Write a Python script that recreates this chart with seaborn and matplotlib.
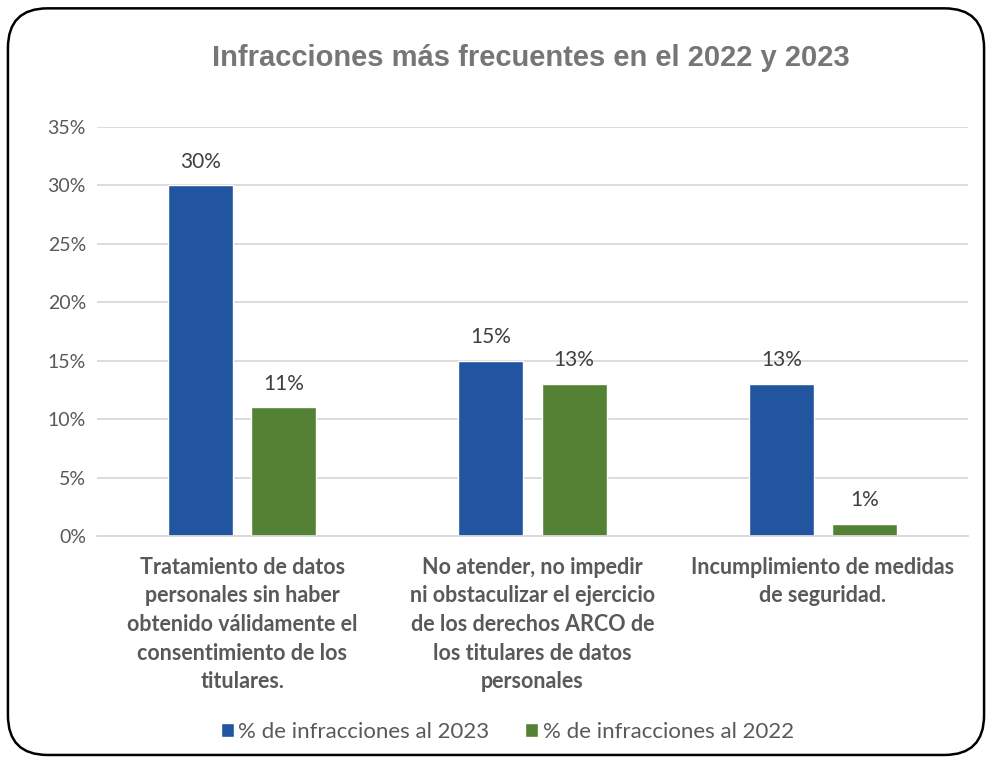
import pandas as pd
import matplotlib.pyplot as plt
import seaborn as sns
from matplotlib.patches import FancyBboxPatch

# --- data ---
categories = [
    "Tratamiento de datos\npersonales sin haber\nobtenido válidamente el\nconsentimiento de los\ntitulares.",
    "No atender, no impedir\nni obstaculizar el ejercicio\nde los derechos ARCO de\nlos titulares de datos\npersonales",
    "Incumplimiento de medidas\nde seguridad.",
]
series_names = ["% de infracciones al 2023", "% de infracciones al 2022"]
values_2023 = [30, 15, 13]
values_2022 = [11, 13, 1]

df = pd.DataFrame({
    "categoria": categories * 2,
    "serie": [series_names[0]] * 3 + [series_names[1]] * 3,
    "valor": values_2023 + values_2022,
})

sns.set_theme(style="white")
plt.rcParams["font.family"] = ["Lato", "DejaVu Sans"]

fig = plt.figure(figsize=(9.92, 7.58), dpi=100)
ax = fig.add_axes([0.0978, 0.2929, 0.878, 0.5396])

palette = ["#2155A0", "#548235"]
sns.barplot(data=df, x="categoria", y="valor", hue="serie", palette=palette,
            width=0.572, gap=0.217, ax=ax, legend=True, saturation=1)

ax.set_ylim(0, 35)
ax.set_yticks(range(0, 36, 5))
ax.set_yticklabels([f"{t}%" for t in range(0, 36, 5)], color="#595959", fontsize=14)
ax.yaxis.grid(True, color="#D9D9D9", linewidth=1.3)
ax.set_axisbelow(True)
for s in ["top", "right", "left"]:
    ax.spines[s].set_visible(False)
ax.spines["bottom"].set_color("#D9D9D9")
ax.spines["bottom"].set_linewidth(1.3)
ax.tick_params(axis="both", length=0, pad=8)
ax.set_xlabel("")
ax.set_ylabel("")
plt.setp(ax.get_xticklabels(), fontweight="bold", color="#595959",
         fontsize=15.5, linespacing=1.45, va="top")
ax.tick_params(axis="x", pad=15)

for cont in ax.containers:
    ax.bar_label(cont, labels=[f"{v:.0f}%" for v in cont.datavalues],
                 padding=10, fontsize=15, color="#404040")

ax.legend(loc="upper center", bbox_to_anchor=(0.471, -0.405), ncol=2, frameon=False,
          fontsize=16, handlelength=0.6, handleheight=0.6, handletextpad=0.2,
          columnspacing=1.6, labelcolor="#595959")

fig.suptitle("Infracciones más frecuentes en el 2022 y 2023", x=0.535, y=0.942,
             fontsize=21, fontweight="bold", color="#767676",
             family=["Liberation Sans", "DejaVu Sans"])

border = FancyBboxPatch((0.008, 0.004), 0.984, 0.985, boxstyle="round,pad=0,rounding_size=0.04",
                        transform=fig.transFigure, fill=False, edgecolor="black",
                        linewidth=1.8, mutation_aspect=992 / 758)
fig.patches.append(border)

fig.savefig("out.png", dpi=100)
